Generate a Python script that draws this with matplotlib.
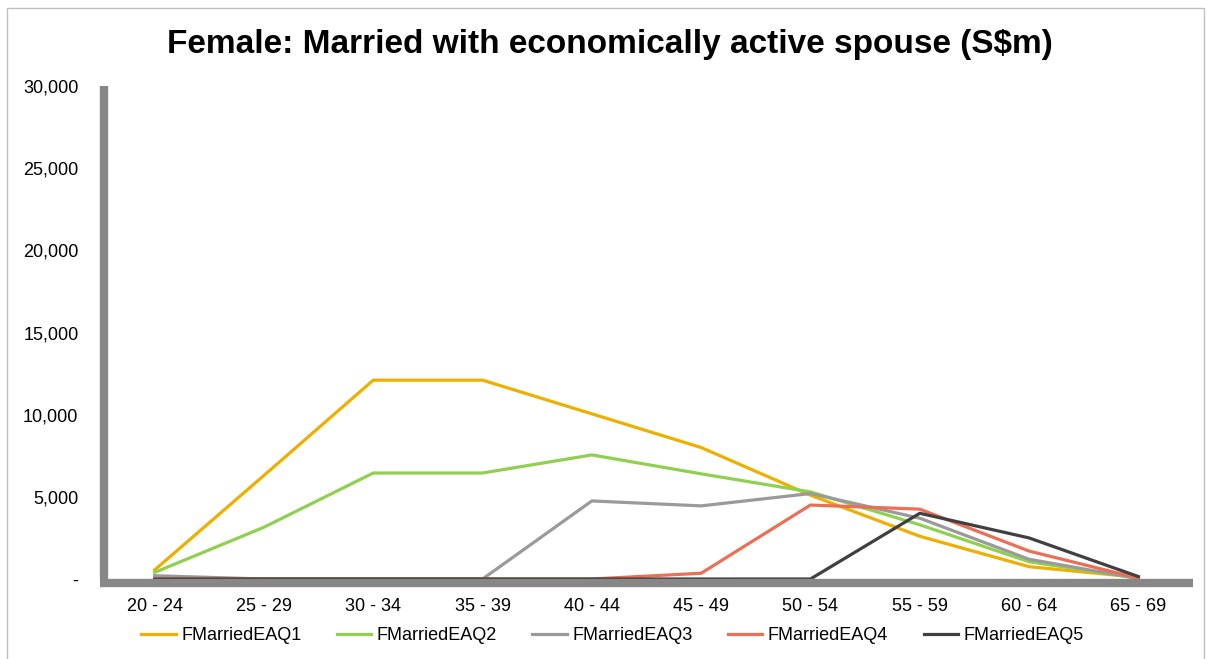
import matplotlib.pyplot as plt
from matplotlib.ticker import FuncFormatter
from matplotlib.patches import Rectangle

plt.rcParams['font.family'] = ['Liberation Sans', 'DejaVu Sans']

age_groups = ['20 - 24', '25 - 29', '30 - 34', '35 - 39', '40 - 44',
              '45 - 49', '50 - 54', '55 - 59', '60 - 64', '65 - 69']
q1 = [550, 6300, 12100, 12100, 10050, 8000, 5100, 2600, 750, 100]
q2 = [400, 3150, 6450, 6450, 7550, 6400, 5300, 3300, 1050, 50]
q3 = [200, 0, 0, 0, 4750, 4450, 5200, 3700, 1200, 30]
q4 = [0, 0, 0, 0, 0, 350, 4500, 4250, 1700, 50]
q5 = [0, 0, 0, 0, 0, 0, 0, 4000, 2500, 150]
series = ['FMarriedEAQ1', 'FMarriedEAQ2', 'FMarriedEAQ3', 'FMarriedEAQ4', 'FMarriedEAQ5']
colors = ['#EEAF00', '#8FD14F', '#9A9A9A', '#EC6F55', '#404040']

fig = plt.figure(figsize=(12.08, 6.59), dpi=100)
ax = fig.add_axes([100 / 1208, 1 - 579 / 659, 1093 / 1208, 493 / 659])

x = range(len(age_groups))
for vals, name, c in zip([q1, q2, q3, q4, q5], series, colors):
    ax.plot(x, vals, color=c, lw=2.3, label=name, solid_joinstyle='round')

ax.set_xlim(-0.5, 9.5)
ax.set_ylim(0, 30000)
ax.set_yticks(range(0, 30001, 5000))
ax.yaxis.set_major_formatter(FuncFormatter(lambda v, p: '-' if v == 0 else f'{int(v):,}'))
ax.set_xticks(list(x))
ax.set_xticklabels(age_groups)
ax.tick_params(axis='both', length=0, labelsize=13)
ax.tick_params(axis='y', pad=18.5)
ax.tick_params(axis='x', pad=11)

for s in ['top', 'right']:
    ax.spines[s].set_visible(False)
for s in ['left', 'bottom']:
    ax.spines[s].set_color('#878787')
    ax.spines[s].set_linewidth(6)
    ax.spines[s].set_capstyle('butt')
ax.spines['bottom'].set_position(('outward', 3))
ax.spines['left'].set_position(('outward', -3))

fig.text(0.505, 1 - 45 / 659, 'Female: Married with economically active spouse (S$m)',
         ha='center', va='center', fontsize=24, fontweight='bold')

fig.legend(loc='center', bbox_to_anchor=(0.507, 1 - 636 / 659), ncol=5, frameon=False,
           fontsize=13, handlelength=1.9, handletextpad=0.3, columnspacing=1.97)

fig.patches.append(Rectangle((7 / 1208, -0.01), 1197 / 1208, 1 - 8 / 659 + 0.01,
                             transform=fig.transFigure, fill=False,
                             edgecolor='#BFBFBF', lw=1))

fig.savefig('out.png', dpi=100)
